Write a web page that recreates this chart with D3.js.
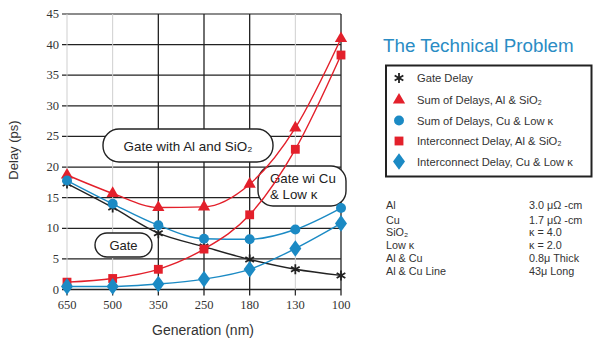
<!DOCTYPE html>
<html><head><meta charset="utf-8">
<script src="https://cdn.jsdelivr.net/npm/d3@7"></script>
<style>body{margin:0;background:#fff;} svg{display:block;}</style>
</head><body>
<svg id="c" width="609" height="339"></svg>
<script>
const categories = ["650","500","350","250","180","130","100"];
const gateDelay = [17.3, 13.4, 9.2, 7.0, 4.9, 3.3, 2.3];
const sumAl = [18.7, 15.7, 13.4, 13.5, 17.2, 26.4, 41.0];
const sumCu = [17.8, 14.0, 10.5, 8.3, 8.2, 9.8, 13.3];
const intAl = [1.2, 1.8, 3.3, 6.6, 12.2, 22.9, 38.3];
const intCu = [0.5, 0.5, 0.9, 1.7, 3.3, 6.7, 10.8];
const yTicks = [0,5,10,15,20,25,30,35,40,45];
const lightGridCats = ["650","500","130"];
const legendLabels = ["Gate Delay","Sum of Delays, Al & SiO₂","Sum of Delays, Cu & Low κ","Interconnect Delay, Al & SiO₂","Interconnect Delay, Cu & Low κ"];
const tableLeft = ["Al","Cu","SiO₂","Low κ","Al & Cu","Al & Cu Line"];
const tableRight = ["3.0 μΩ -cm","1.7 μΩ -cm","κ = 4.0","κ = 2.0","0.8μ Thick","43μ Long"];

const RED = "#e3202b", BLUE = "#1b8ac4", BLACK = "#222";
const SANS = "Liberation Sans, Arial, sans-serif";
const SERIF = "Liberation Serif, Times New Roman, serif";
const svg = d3.select("#c");
const x = d3.scalePoint().domain(categories).range([67, 341]);
const y = d3.scaleLinear().domain([0,45]).range([289.5, 14]);

// grid
const g = svg.append("g");
g.selectAll(".hg").data(yTicks).enter().append("line")
  .attr("x1", 62).attr("x2", 341)
  .attr("y1", d=>y(d)).attr("y2", d=>y(d))
  .attr("stroke", d=> d===45 ? "#666" : "#222").attr("stroke-width", 1.3);
g.selectAll(".vg").data(categories).enter().append("line")
  .attr("x1", d=>x(d)).attr("x2", d=>x(d))
  .attr("y1", y(45)).attr("y2", d=> lightGridCats.includes(d) ? y(0) : y(0)+6)
  .attr("stroke", d=> lightGridCats.includes(d) ? "#cfcfcf" : "#222")
  .attr("stroke-width", d=> lightGridCats.includes(d) ? 1 : 1.3);
g.selectAll(".vt").data(lightGridCats).enter().append("line")
  .attr("x1", d=>x(d)).attr("x2", d=>x(d)).attr("y1", y(0)).attr("y2", y(0)+6)
  .attr("stroke","#222").attr("stroke-width",1.2);

// tick labels
svg.selectAll(".yl").data(yTicks).enter().append("text")
  .attr("x", 59).attr("y", d=>y(d)+4).attr("text-anchor","end")
  .attr("font-family",SERIF).attr("font-size",12.5).attr("fill","#333")
  .text(d=>d);
svg.selectAll(".xl").data(categories).enter().append("text")
  .attr("x", d=>x(d)).attr("y", 309).attr("text-anchor","middle")
  .attr("font-family",SERIF).attr("font-size",12.5).attr("fill","#333")
  .text(d=>d);
svg.append("text").attr("x",203).attr("y",335).attr("text-anchor","middle")
  .attr("font-family",SANS).attr("font-size",14).attr("fill","#333")
  .text("Generation (nm)");
svg.append("text").attr("transform","translate(18,150) rotate(-90)").attr("text-anchor","middle")
  .attr("font-family",SANS).attr("font-size",13).attr("fill","#333")
  .text("Delay (ps)");

// annotation boxes
function pill(x0,y0,w,h,r,lines,fs,tx){
  svg.append("rect").attr("x",x0).attr("y",y0).attr("width",w).attr("height",h).attr("rx",r).attr("ry",r)
    .attr("fill","#fff").attr("stroke","#222").attr("stroke-width",1.4);
  lines.forEach(t=>{
    svg.append("text").attr("x", tx===undefined ? x0+w/2 : tx).attr("y", t.y)
      .attr("text-anchor", tx===undefined ? "middle":"start")
      .attr("font-family",SANS).attr("font-size",fs).attr("fill","#222").text(t.s);
  });
}
pill(103,129,170,33,16,[{s:"Gate with Al and SiO₂",y:150.5}],13.4);
pill(258,166,88,40,15,[{s:"Gate wi Cu",y:182.5},{s:"& Low κ",y:198.5}],13.3,270);
pill(95,233,57,24,12,[{s:"Gate",y:249.5}],13);

// series
const series = [
  {vals: gateDelay, color: BLACK, sym: "star"},
  {vals: sumAl, color: RED, sym: "tri"},
  {vals: sumCu, color: BLUE, sym: "circ"},
  {vals: intAl, color: RED, sym: "sq"},
  {vals: intCu, color: BLUE, sym: "dia"}
];
const line = d3.line().x((d,i)=>x(categories[i])).y(d=>y(d)).curve(d3.curveMonotoneX);
function drawSym(sel, s){
  if (s.sym==="star") {
    sel.append("path").attr("d", d3.symbol(d3.symbolAsterisk, 70)())
      .attr("fill","none").attr("stroke", s.color).attr("stroke-width", 1.8);
  } else if (s.sym==="tri") {
    sel.append("path").attr("d", d3.symbol(d3.symbolTriangle, 65)()).attr("fill", s.color);
  } else if (s.sym==="circ") {
    sel.append("path").attr("d", d3.symbol(d3.symbolCircle, 78)()).attr("fill", s.color);
  } else if (s.sym==="sq") {
    sel.append("path").attr("d", d3.symbol(d3.symbolSquare, 78)()).attr("fill", s.color);
  } else {
    sel.append("path").attr("d", d3.symbol(d3.symbolDiamond, 80)()).attr("fill", s.color)
      .attr("transform","scale(1.25,1)");
  }
}
series.forEach(s=>{
  svg.append("path").attr("d", line(s.vals)).attr("fill","none").attr("stroke", s.color).attr("stroke-width",1.4);
});
series.forEach(s=>{
  s.vals.forEach((v,i)=>{
    const m = svg.append("g").attr("transform",`translate(${x(categories[i])},${y(v)})`);
    drawSym(m, s);
  });
});

// title
svg.append("text").attr("x",383).attr("y",52).attr("font-family",SANS)
  .attr("font-size",18.8).attr("fill","#2a8cc4").text("The Technical Problem");

// legend
svg.append("rect").attr("x",386).attr("y",65.5).attr("width",205.5).attr("height",111)
  .attr("fill","#fff").attr("stroke","#222").attr("stroke-width",2);
const legY = [78, 100, 120.5, 141, 161.5];
legendLabels.forEach((t,i)=>{
  const m = svg.append("g").attr("transform",`translate(399,${legY[i]})`);
  drawSym(m, series[i]);
  svg.append("text").attr("x",417).attr("y",legY[i]+4).attr("font-family",SANS)
    .attr("font-size",11.2).attr("fill","#333").text(t);
});

// table
const tabY = [209, 224, 236, 249, 262, 275];
tableLeft.forEach((t,i)=>{
  svg.append("text").attr("x",386).attr("y",tabY[i]).attr("font-family",SANS)
    .attr("font-size",10.8).attr("fill","#333").text(t);
  svg.append("text").attr("x",529).attr("y",tabY[i]).attr("font-family",SANS)
    .attr("font-size",10.8).attr("fill","#333").text(tableRight[i]);
});
</script>
</body></html>
